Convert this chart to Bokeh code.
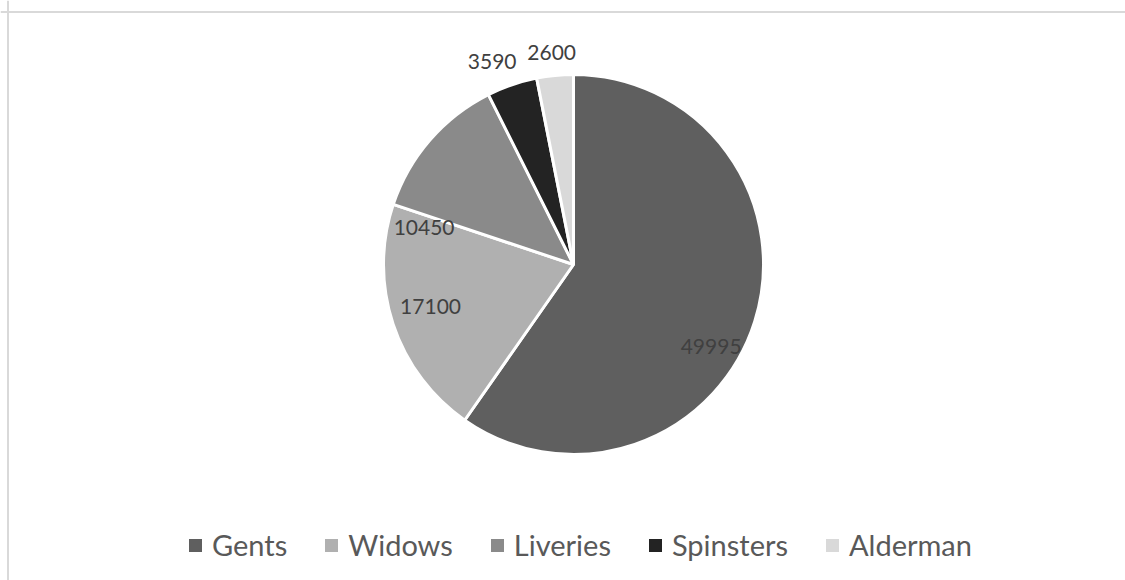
import math
from bokeh.plotting import figure
from bokeh.models import ColumnDataSource, Legend, LegendItem, Span
from bokeh.embed import file_html
from bokeh.resources import INLINE
from bokeh.core.properties import value

# ---- data ----
categories = ["Gents", "Widows", "Liveries", "Spinsters", "Alderman"]
values = [49995, 17100, 10450, 3590, 2600]
colors = ["#5F5F5F", "#B0B0B0", "#8A8A8A", "#232323", "#D9D9D9"]

# ---- label placement (radius in px, angle nudge in degrees) ----
label_r = [160, 149, 154, 219, 213]
label_dtheta = [13.2, 1.9, -26.9, -2.9, -0.3]

W, H = 1125, 580
CX, CY, R = 573, 316, 190

total = float(sum(values))
starts, ends, lx, ly = [], [], [], []
cum = 0.0
for i, v in enumerate(values):
    f0 = cum / total
    cum += v
    f1 = cum / total
    # clockwise from 12 o'clock
    starts.append(math.pi / 2 - f1 * 2 * math.pi)
    ends.append(math.pi / 2 - f0 * 2 * math.pi)
    mid = (f0 + f1) / 2 * 360 + label_dtheta[i]
    t = math.radians(mid)
    lx.append(CX + label_r[i] * math.sin(t))
    ly.append(CY + label_r[i] * math.cos(t))

src = ColumnDataSource(dict(cat=categories, val=values, color=colors,
                            start=starts, end=ends,
                            lx=lx, ly=ly, txt=[str(v) for v in values]))

p = figure(width=W, height=H, x_range=(0, W), y_range=(0, H),
           output_backend="svg", toolbar_location=None, min_border=0,
           outline_line_color=None, background_fill_color="white")
p.axis.visible = False
p.xgrid.visible = False
p.ygrid.visible = False

wr = p.wedge(x=CX, y=CY, radius=R, start_angle="start", end_angle="end",
             fill_color="color", line_color="white", line_width=3, source=src)

p.text(x="lx", y="ly", text="txt", source=src, text_align="center",
       text_baseline="middle", text_font=value("Lato"),
       text_font_size="21px", text_color="#404040")

# chart-area border (left and top visible)
p.add_layout(Span(location=7.5, dimension="height", line_color="#D9D9D9", line_width=2))
p.add_layout(Span(location=568.5, dimension="width", line_color="#D9D9D9", line_width=2))

items = [LegendItem(label=c, renderers=[wr], index=i) for i, c in enumerate(categories)]
legend = Legend(items=items, orientation="horizontal", location=(185, 18),
                label_text_font="Lato", label_text_font_size="29px",
                label_text_color="#595959", glyph_width=20, glyph_height=20,
                label_standoff=7, spacing=34, padding=0, margin=0,
                border_line_color=None, background_fill_alpha=0)
p.add_layout(legend, "center")

open("out.html", "w").write(file_html(p, INLINE))
